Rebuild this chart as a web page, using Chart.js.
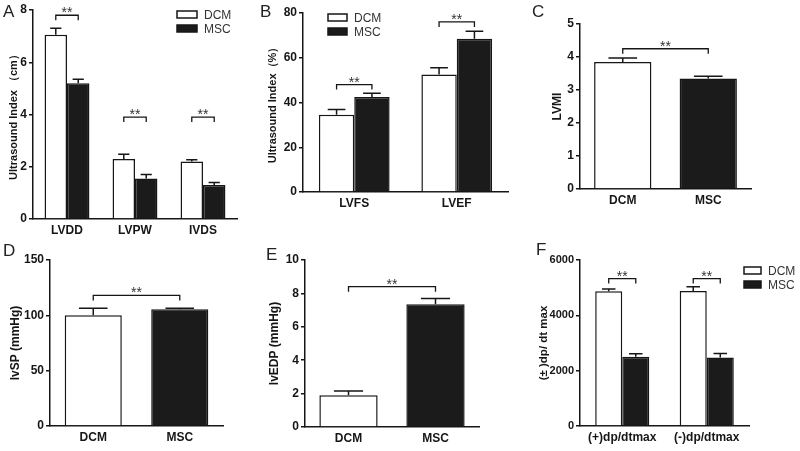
<!DOCTYPE html>
<html lang="en">
<head>
<meta charset="UTF-8">
<title>DCM vs MSC</title>
<script src="https://cdn.jsdelivr.net/npm/chart.js"></script>
<style>
  body { margin: 0; background: #fff; }
  #wrap { position: relative; width: 800px; height: 451px; overflow: hidden; }
  #wrap canvas { position: absolute; left: 0; top: 0; }
  .tag { position: absolute; font: 17px Arial, "Liberation Sans", sans-serif; line-height: 1; color: #222; }
</style>
</head>
<body>
<div id="wrap">
  <canvas id="cA" width="800" height="451"></canvas>
  <canvas id="cB" width="800" height="451"></canvas>
  <canvas id="cC" width="800" height="451"></canvas>
  <canvas id="cD" width="800" height="451"></canvas>
  <canvas id="cE" width="800" height="451"></canvas>
  <canvas id="cF" width="800" height="451"></canvas>
  <div class="tag" style="left:3px;top:3px">A</div>
  <div class="tag" style="left:260px;top:3px">B</div>
  <div class="tag" style="left:532px;top:3px">C</div>
  <div class="tag" style="left:3px;top:242px">D</div>
  <div class="tag" style="left:266px;top:246px">E</div>
  <div class="tag" style="left:536px;top:241px">F</div>
</div>

<script>
const groups = ['DCM', 'MSC'];

// A: echo dimensions (cm)
const catsA = ['LVDD', 'LVPW', 'IVDS'];
const dcmA = [7.05, 2.3, 2.2];
const dcmErrA = [0.25, 0.18, 0.07];
const mscA = [5.2, 1.55, 1.3];
const mscErrA = [0.15, 0.15, 0.1];
const sigA = [7.8, 3.9, 3.9];

// B: echo function (%)
const catsB = ['LVFS', 'LVEF'];
const dcmB = [34.5, 52.5];
const dcmErrB = [2.4, 3.0];
const mscB = [42.5, 68.5];
const mscErrB = [1.6, 3.3];
const sigB = [48, 76];

// C: LVMI
const valsC = [3.85, 3.35];
const errC = [0.12, 0.07];
const sigC = 4.25;

// D: lvSP
const valsD = [100, 105.5];
const errD = [6.5, 1.0];
const sigD = 118;

// E: lvEDP
const valsE = [1.9, 7.35];
const errE = [0.25, 0.35];
const sigE = 8.4;

// F: dp/dt max
const catsF = ['(+)dp/dtmax', '(-)dp/dtmax'];
const dcmF = [4870, 4880];
const dcmErrF = [80, 150];
const mscF = [2500, 2480];
const mscErrF = [110, 140];
const sigF = [5330, 5330];

const FONT = 'Arial, "Liberation Sans", sans-serif';
const INK = '#161616';
const WHITE = '#ffffff';
const BLACK = '#1b1b1b';

// upper error whisker with a cap
const errorBars = {
  id: 'errorBars',
  afterDatasetsDraw(chart) {
    const ctx = chart.ctx, y = chart.scales.y;
    chart.data.datasets.forEach((ds, di) => {
      if (!ds.err) return;
      chart.getDatasetMeta(di).data.forEach((bar, i) => {
        const top = y.getPixelForValue(ds.data[i]);
        const tip = y.getPixelForValue(ds.data[i] + ds.err[i]);
        const half = bar.width / 4;
        ctx.save();
        ctx.strokeStyle = INK;
        ctx.lineWidth = 1.5;
        ctx.beginPath();
        ctx.moveTo(bar.x, top);
        ctx.lineTo(bar.x, tip);
        ctx.moveTo(bar.x - half, tip);
        ctx.lineTo(bar.x + half, tip);
        ctx.stroke();
        ctx.restore();
      });
    });
  }
};

// ** brackets between two bars
const sigBrackets = {
  id: 'sig',
  afterDatasetsDraw(chart, args, opts) {
    const ctx = chart.ctx, y = chart.scales.y;
    (opts.pairs || []).forEach(p => {
      const a = chart.getDatasetMeta(p.a[0]).data[p.a[1]];
      const b = chart.getDatasetMeta(p.b[0]).data[p.b[1]];
      const yy = y.getPixelForValue(p.y);
      ctx.save();
      ctx.strokeStyle = INK;
      ctx.lineWidth = 1.3;
      ctx.beginPath();
      ctx.moveTo(a.x, yy + 5);
      ctx.lineTo(a.x, yy);
      ctx.lineTo(b.x, yy);
      ctx.lineTo(b.x, yy + 5);
      ctx.stroke();
      ctx.fillStyle = '#333';
      ctx.font = '14px ' + FONT;
      ctx.textAlign = 'center';
      ctx.textBaseline = 'alphabetic';
      ctx.fillText('**', (a.x + b.x) / 2, yy + 2);
      ctx.restore();
    });
  }
};

// small box legend
const boxLegend = {
  id: 'boxLegend',
  afterDraw(chart, args, opts) {
    if (!opts.x) return;
    const ctx = chart.ctx;
    ctx.save();
    chart.data.datasets.forEach((ds, i) => {
      const top = opts.y + i * opts.step;
      ctx.fillStyle = ds.backgroundColor;
      ctx.fillRect(opts.x, top, opts.w, opts.h);
      ctx.strokeStyle = INK;
      ctx.lineWidth = 1.5;
      ctx.strokeRect(opts.x, top, opts.w, opts.h);
      ctx.fillStyle = '#333';
      ctx.font = '12px ' + FONT;
      ctx.textBaseline = 'middle';
      ctx.fillText(ds.label, opts.x + opts.w + 7, top + opts.h / 2 + 1);
    });
    ctx.restore();
  }
};

function makePanel(id, p) {
  new Chart(document.getElementById(id), {
    type: 'bar',
    data: { labels: p.labels, datasets: p.datasets },
    options: {
      responsive: false,
      animation: false,
      events: [],
      layout: { padding: p.pad },
      categoryPercentage: p.cp,
      barPercentage: 1,
      scales: {
        x: {
          grid: { drawOnChartArea: false, drawTicks: false },
          border: { color: INK, width: 1.5 },
          ticks: { color: INK, padding: 4, font: { family: FONT, size: 12, weight: 'bold' } },
          afterFit: s => { s.height = 20; }
        },
        y: {
          min: 0, max: p.max,
          ticks: { stepSize: p.step, color: INK, padding: 2,
                   callback: v => String(v),
                   font: { family: FONT, size: p.tickSize || 12, weight: 'bold' } },
          grid: { drawOnChartArea: false, drawTicks: true, tickLength: 4, color: INK, lineWidth: 1.5 },
          border: { color: INK, width: 1.5 },
          title: { display: true, text: p.title, color: INK, padding: 0,
                   font: { family: FONT, size: p.titleSize, weight: 'bold' } },
          afterFit: s => { s.width = p.yW; }
        }
      },
      plugins: {
        legend: { display: false },
        tooltip: { enabled: false },
        sig: { pairs: p.pairs },
        boxLegend: p.legend || {}
      }
    },
    plugins: [errorBars, sigBrackets, boxLegend]
  });
}

function pairSet(dcm, dcmErr, msc, mscErr) {
  return [
    { label: groups[0], data: dcm, err: dcmErr, backgroundColor: WHITE, borderColor: INK, borderWidth: 1.5 },
    { label: groups[1], data: msc, err: mscErr, backgroundColor: BLACK, borderColor: INK, borderWidth: 1.5 }
  ];
}

function singleSet(vals, errs) {
  return [{ data: vals, err: errs, backgroundColor: [WHITE, BLACK], borderColor: INK, borderWidth: 1.5 }];
}

makePanel('cA', {
  labels: catsA, datasets: pairSet(dcmA, dcmErrA, mscA, mscErrA),
  pad: { left: 7.4, right: 563, top: 10, bottom: 212 }, yW: 25.6, cp: 0.66,
  max: 8, step: 2, title: 'Ultrasound Index （cm）', titleSize: 11,
  pairs: sigA.map((v, i) => ({ a: [0, i], b: [1, i], y: v })),
  legend: { x: 177, y: 11, w: 20, h: 7, step: 14 }
});

makePanel('cB', {
  labels: catsB, datasets: pairSet(dcmB, dcmErrB, mscB, mscErrB),
  pad: { left: 266.4, right: 292, top: 13, bottom: 239 }, yW: 36.6, cp: 0.69,
  max: 80, step: 20, title: 'Ultrasound Index（%）', titleSize: 11,
  pairs: sigB.map((v, i) => ({ a: [0, i], b: [1, i], y: v })),
  legend: { x: 328, y: 14, w: 19, h: 7, step: 14 }
});

makePanel('cC', {
  labels: groups, datasets: singleSet(valsC, errC),
  pad: { left: 550.8, right: 49, top: 24, bottom: 242 }, yW: 29.2, cp: 0.67,
  max: 5, step: 1, title: 'LVMI', titleSize: 12,
  pairs: [{ a: [0, 0], b: [0, 1], y: sigC }]
});

makePanel('cD', {
  labels: groups, datasets: singleSet(valsD, errD),
  pad: { left: 8.3, right: 577, top: 260, bottom: 5 }, yW: 41.7, cp: 0.66,
  max: 150, step: 50, title: 'lvSP (mmHg)', titleSize: 12,
  pairs: [{ a: [0, 0], b: [0, 1], y: sigD }]
});

makePanel('cE', {
  labels: groups, datasets: singleSet(valsE, errE),
  pad: { left: 267.8, right: 321, top: 260, bottom: 4 }, yW: 37.2, cp: 0.67,
  max: 10, step: 2, title: 'lvEDP (mmHg)', titleSize: 12,
  pairs: [{ a: [0, 0], b: [0, 1], y: sigE }]
});

makePanel('cF', {
  labels: catsF, datasets: pairSet(dcmF, dcmErrF, mscF, mscErrF),
  pad: { left: 536.5, right: 51, top: 260, bottom: 5 }, yW: 43.5, cp: 0.64,
  max: 6000, step: 2000, title: '(± )dp/ dt max', titleSize: 11.5, tickSize: 11,
  pairs: sigF.map((v, i) => ({ a: [0, i], b: [1, i], y: v })),
  legend: { x: 744, y: 267, w: 17, h: 7, step: 14 }
});
</script>
</body>
</html>
